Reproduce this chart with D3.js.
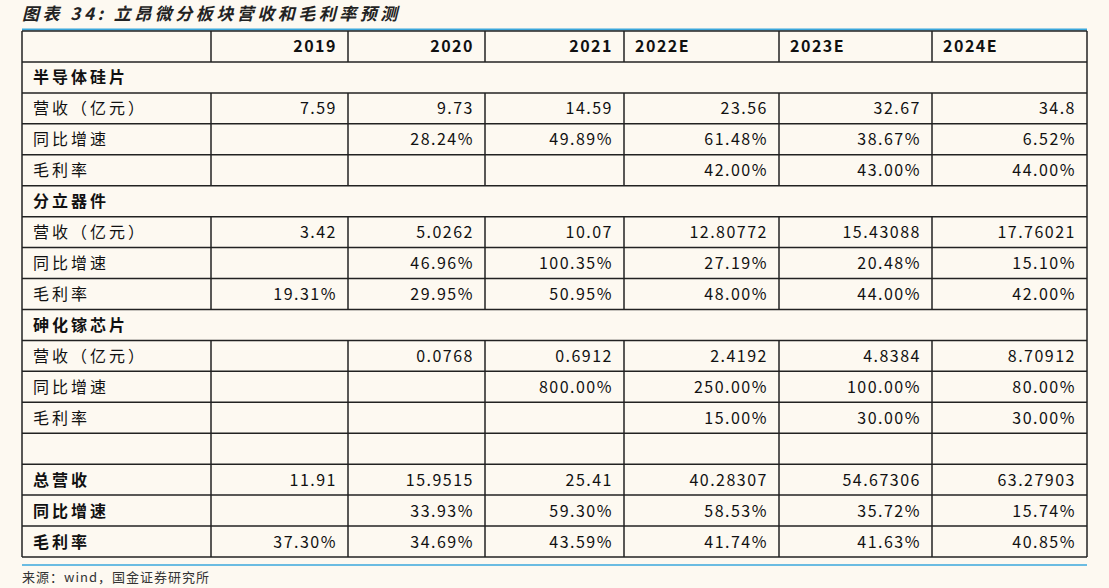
<!DOCTYPE html>
<html><head><meta charset="utf-8">
<script src="https://cdn.jsdelivr.net/npm/d3@7"></script>
<style>body{margin:0;background:#fdf9f1;}</style>
</head><body><svg id="c" width="1109" height="588"></svg>
<script>
const title = "图表 34: 立昂微分板块营收和毛利率预测";
const source = "来源：wind，国金证券研究所";
const years = ["2019","2020","2021","2022E","2023E","2024E"];
const rowLabels = ["半导体硅片","营收（亿元）","同比增速","毛利率","分立器件","营收（亿元）","同比增速","毛利率","砷化镓芯片","营收（亿元）","同比增速","毛利率","","总营收","同比增速","毛利率"];
const rowKinds = ["section","data","data","data","section","data","data","data","section","data","data","data","blank","total","total","total"];
const rowValues = [
 [],
 ["7.59","9.73","14.59","23.56","32.67","34.8"],
 ["","28.24%","49.89%","61.48%","38.67%","6.52%"],
 ["","","","42.00%","43.00%","44.00%"],
 [],
 ["3.42","5.0262","10.07","12.80772","15.43088","17.76021"],
 ["","46.96%","100.35%","27.19%","20.48%","15.10%"],
 ["19.31%","29.95%","50.95%","48.00%","44.00%","42.00%"],
 [],
 ["","0.0768","0.6912","2.4192","4.8384","8.70912"],
 ["","","800.00%","250.00%","100.00%","80.00%"],
 ["","","","15.00%","30.00%","30.00%"],
 [],
 ["11.91","15.9515","25.41","40.28307","54.67306","63.27903"],
 ["","33.93%","59.30%","58.53%","35.72%","15.74%"],
 ["37.30%","34.69%","43.59%","41.74%","41.63%","40.85%"]
];
const colEdges = [22,211,348,485,624,779,932,1087];
const svg = d3.select("#c");
const font = "'Noto Sans CJK SC', sans-serif";
const nRows = rowLabels.length + 1;
const y = d3.scaleLinear().domain([0,nRows]).range([31,557]);
const rh = y(1)-y(0);

svg.append("text").attr("x",22).attr("y",20).attr("font-family",font).attr("font-size",17)
  .attr("font-weight","bold").attr("font-style","italic").attr("letter-spacing",3.5).attr("fill","#222").text(title);
svg.append("line").attr("x1",22).attr("x2",1087).attr("y1",29.5).attr("y2",29.5).attr("stroke","#3aa7dc").attr("stroke-width",2);
svg.append("line").attr("x1",22).attr("x2",1087).attr("y1",565).attr("y2",565).attr("stroke","#3aa7dc").attr("stroke-width",1.5);
svg.append("text").attr("x",22).attr("y",582).attr("font-family",font).attr("font-size",13).attr("letter-spacing",1).attr("fill","#333").text(source);

const g = svg.append("g").attr("stroke","#222").attr("stroke-width",1.5);
for(let i=0;i<=nRows;i++) g.append("line").attr("x1",22).attr("x2",1087).attr("y1",y(i)).attr("y2",y(i));
g.append("line").attr("x1",22).attr("x2",22).attr("y1",y(0)).attr("y2",y(nRows));
g.append("line").attr("x1",1087).attr("x2",1087).attr("y1",y(0)).attr("y2",y(nRows));
const rowsAll = [{kind:"header"}].concat(rowKinds.map(k=>({kind:k})));
rowsAll.forEach((r,i)=>{
  if(r.kind==="section") return;
  for(let c=1;c<colEdges.length-1;c++)
    g.append("line").attr("x1",colEdges[c]).attr("x2",colEdges[c]).attr("y1",y(i)).attr("y2",y(i+1));
});

const T = svg.append("g").attr("font-family",font).attr("font-size",16).attr("fill","#111");
years.forEach((yr,j)=>{
  const left = j>=3;
  T.append("text").attr("x",left?colEdges[j+1]+11:colEdges[j+2]-11).attr("y",y(0)+rh/2+6)
   .attr("text-anchor",left?"start":"end").attr("font-weight","bold").attr("letter-spacing",1.5).text(yr);
});
rowLabels.forEach((lab,i)=>{
  const k = rowKinds[i], yy = y(i+1)+rh/2+6;
  T.append("text").attr("x",33).attr("y",yy).attr("letter-spacing",3)
   .attr("font-weight",(k==="section"||k==="total")?"bold":"normal").text(lab);
  rowValues[i].forEach((v,j)=>{
    if(!v) return;
    T.append("text").attr("x",colEdges[j+2]-11).attr("y",yy).attr("text-anchor","end")
     .attr("letter-spacing",1.5).text(v);
  });
});
</script></body></html>
